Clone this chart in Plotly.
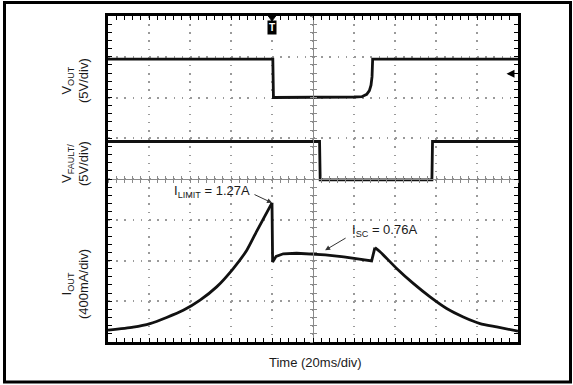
import plotly.graph_objects as go

# ---- captured channel data (time in ms, trigger at t = 0) ----
t_vout = [-80, 0.4, 0.7, 10, 20, 30, 40, 43.8, 46.2, 47.5, 48.3, 48.8, 49.1, 60, 80, 100, 120]
v_vout = [4.7, 4.7, 0.0, 0.0, 0.02, 0.03, 0.06, 0.1, 0.39, 0.84, 1.5, 2.56, 4.7, 4.7, 4.7, 4.7, 4.7]

t_fault = [-80, 23.2, 23.5, 78.0, 78.3, 120]
v_fault = [4.6, 4.6, -0.1, -0.1, 4.6, 4.6]

# output current: ramp up to the current limit, fold back, recovery ramp down
t_i_rise = [-80, -67.7, -59.5, -51.4, -43.3, -35.1, -27.0, -18.9, -12.3, -7.5, 0]
i_rise = [0.02, 0.05, 0.085, 0.145, 0.215, 0.315, 0.445, 0.625, 0.805, 0.99, 1.27]

t_i_sc = [0, 0.3, 2, 5.5, 12, 20, 26, 35, 42, 47, 48.6, 50.2]
i_sc = [1.27, 0.69, 0.745, 0.77, 0.775, 0.77, 0.76, 0.74, 0.72, 0.70, 0.70, 0.83]

t_i_fall = [50.2, 52.7, 60.8, 68.9, 77.1, 85.2, 93.3, 101.5, 109.6, 120]
i_fall = [0.83, 0.79, 0.626, 0.479, 0.347, 0.233, 0.15, 0.085, 0.052, 0.01]

I_LIMIT = 1.27
I_SC = 0.76

# ---- figure geometry ----
W, H = 573, 385
L, R, T, B = 108, 55, 16, 43
PW, PH = W - L - R, H - T - B


def px(x):
    return (x - L) / PW


def py(y):
    return (H - B - y) / PH


FONT = "Liberation Sans, Arial, sans-serif"
INK = "#111111"

fig = go.Figure()

# axis helpers for the graticule centre lines
for ax in ("x2", "x3"):
    fig.add_trace(go.Scatter(x=[None], y=[None], xaxis=ax, yaxis="y",
                             showlegend=False, hoverinfo="skip"))
for ay in ("y4", "y5"):
    fig.add_trace(go.Scatter(x=[None], y=[None], xaxis="x", yaxis=ay,
                             showlegend=False, hoverinfo="skip"))

trace_line = dict(color=INK, width=2.8)
fig.add_trace(go.Scatter(x=t_vout, y=v_vout, mode="lines", yaxis="y",
                         line=trace_line, showlegend=False))
fig.add_trace(go.Scatter(x=t_fault, y=v_fault, mode="lines", yaxis="y2",
                         line=trace_line, showlegend=False))
fig.add_trace(go.Scatter(x=t_i_rise, y=i_rise, mode="lines", yaxis="y3",
                         line=dict(color=INK, width=2.8, shape="spline", smoothing=0.6),
                         showlegend=False))
fig.add_trace(go.Scatter(x=t_i_sc, y=i_sc, mode="lines", yaxis="y3",
                         line=trace_line, showlegend=False))
fig.add_trace(go.Scatter(x=t_i_fall, y=i_fall, mode="lines", yaxis="y3",
                         line=dict(color=INK, width=2.8, shape="spline", smoothing=0.6),
                         showlegend=False))

GRID = "#9a9a9a"
frame = dict(showline=True, linecolor="black", linewidth=2.5, mirror="allticks",
             ticks="inside", ticklen=4, tickcolor="black", tickwidth=1,
             showticklabels=False, zeroline=False, showgrid=True,
             gridcolor=GRID, gridwidth=1.5)

CENTER = "#8a8a8a"
center_x = dict(overlaying="x", anchor="free", position=0.5, range=[-80, 120],
                showline=True, linecolor=CENTER, linewidth=1,
                tick0=-80, dtick=20, ticklen=3, tickcolor=CENTER, tickwidth=1,
                showticklabels=False, showgrid=False, zeroline=False)
center_y = dict(overlaying="y", anchor="free", position=0.5, range=[-30, 10],
                showline=True, linecolor=CENTER, linewidth=1,
                tick0=0, dtick=5, ticklen=3, tickcolor=CENTER, tickwidth=1,
                showticklabels=False, showgrid=False, zeroline=False)

fig.update_layout(
    width=W, height=H,
    margin=dict(l=L, r=R, t=T, b=B, pad=0),
    paper_bgcolor="white", plot_bgcolor="white",
    font=dict(family=FONT, color="#1a1a1a", size=13),
    xaxis=dict(range=[-80, 120], tick0=-80, dtick=20, griddash="1.5px,6.65px",
               minor=dict(ticks="inside", dtick=4, ticklen=4, tickcolor="black",
                          showgrid=False),
               **frame),
    yaxis=dict(range=[-30, 10], tick0=0, dtick=5, griddash="1.5px,6.7px",
               minor=dict(ticks="inside", dtick=1, ticklen=4, tickcolor="black",
                          showgrid=False),
               **frame),
    yaxis2=dict(overlaying="y", range=[-20, 20], visible=False),
    yaxis3=dict(overlaying="y", range=[-0.096, 3.104], visible=False),
    xaxis2=dict(ticks="outside",
                minor=dict(ticks="outside", dtick=4, ticklen=3, tickcolor=CENTER),
                **center_x),
    xaxis3=dict(ticks="inside",
                minor=dict(ticks="inside", dtick=4, ticklen=3, tickcolor=CENTER),
                **center_x),
    yaxis4=dict(ticks="outside",
                minor=dict(ticks="outside", dtick=1, ticklen=3, tickcolor=CENTER),
                **center_y),
    yaxis5=dict(ticks="inside",
                minor=dict(ticks="inside", dtick=1, ticklen=3, tickcolor=CENTER),
                **center_y),
    showlegend=False,
)

# outer border of the figure
fig.add_shape(type="rect", xref="paper", yref="paper",
              x0=px(4.5), x1=px(570.5), y0=py(382), y1=py(2.5),
              line=dict(color="black", width=3), layer="above")

# trigger position marker at the top edge
fig.add_shape(type="path", xref="x", yref="paper",
              path=f"M -2.0,{py(15.5)} L 2.0,{py(15.5)} L 0,{py(21)} Z",
              fillcolor="black", line=dict(color="black", width=1))
fig.add_annotation(x=0, xref="x", y=py(27), yref="paper", text="<b>T</b>",
                   showarrow=False, font=dict(family=FONT, size=10, color="white"),
                   bgcolor="black", borderpad=1, xanchor="center", yanchor="middle")

# channel level marker on the right edge
fig.add_annotation(x=px(506.5), xref="paper", y=2.9, yref="y", text="",
                   showarrow=True, ax=8, ay=0, axref="pixel", ayref="pixel",
                   arrowhead=2, arrowsize=1, arrowwidth=1.6, arrowcolor="black",
                   standoff=0)

# channel labels
labels = [
    ("V<sub>OUT</sub><br>(5V/div)", 81),
    ("V<sub>FAULT/</sub><br>(5V/div)", 164),
    ("I<sub>OUT</sub><br>(400mA/div)", 284),
]
for txt, yc in labels:
    fig.add_annotation(x=px(75), xref="paper", y=py(yc), yref="paper", text=txt,
                       textangle=-90, showarrow=False, xanchor="center",
                       yanchor="middle", font=dict(family=FONT, size=13))

fig.add_annotation(x=px(315), xref="paper", y=py(362), yref="paper",
                   text="Time (20ms/div)", showarrow=False,
                   xanchor="center", yanchor="middle", font=dict(family=FONT, size=13))

# current limit callouts
fig.add_annotation(x=0, xref="x", y=I_LIMIT, yref="y3", text="",
                   showarrow=True, ax=-19, ay=-9, axref="pixel", ayref="pixel",
                   arrowhead=2, arrowsize=1, arrowwidth=1, arrowcolor="#333333",
                   standoff=0)
fig.add_annotation(x=px(211.5), xref="paper", y=py(191.5), yref="paper",
                   text=f"I<sub>LIMIT</sub> = {I_LIMIT:.2f}A", showarrow=False,
                   xanchor="center", yanchor="middle", font=dict(family=FONT, size=13))

fig.add_annotation(x=25.9, xref="x", y=I_SC + 0.045, yref="y3", text="",
                   showarrow=True, ax=22, ay=-13, axref="pixel", ayref="pixel",
                   arrowhead=2, arrowsize=1, arrowwidth=1, arrowcolor="#333333",
                   standoff=0)
fig.add_annotation(x=px(384), xref="paper", y=py(230), yref="paper",
                   text=f"I<sub>SC</sub> = {I_SC:.2f}A", showarrow=False,
                   xanchor="center", yanchor="middle", font=dict(family=FONT, size=13))

fig.write_html("out.html")
